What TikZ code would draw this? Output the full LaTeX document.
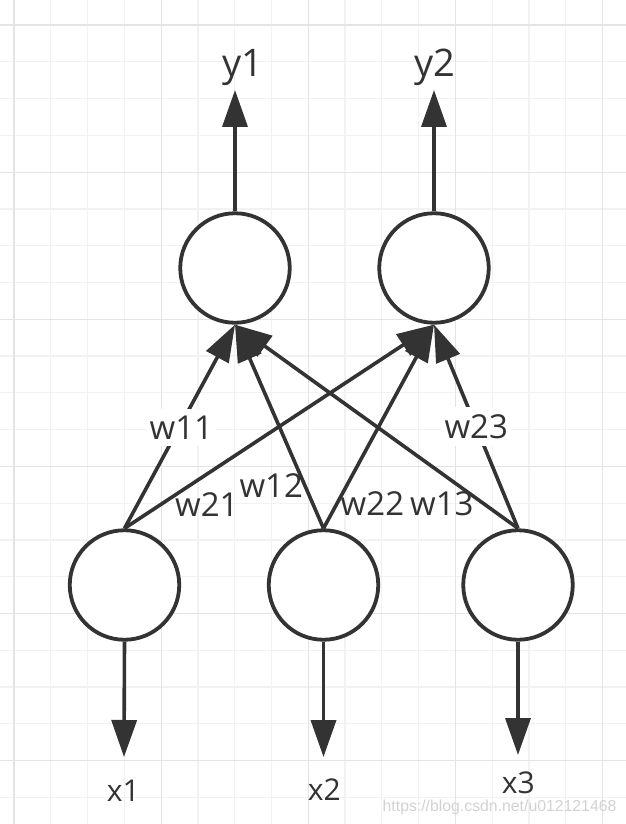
\documentclass[tikz,border=0pt]{standalone}
\usepackage{fontspec}
\setmainfont{Open Sans}
\newfontfamily\wmfont{Liberation Sans}
\usetikzlibrary{arrows.meta}
\definecolor{ink}{HTML}{333333}
\definecolor{gridminor}{HTML}{F2F2F2}
\definecolor{gridmajor}{HTML}{E4E4E4}
\definecolor{wmgray}{HTML}{D2D2D2}
\begin{document}
\begin{tikzpicture}[x=1pt,y=-1pt,
  neuron/.style={circle, draw=ink, line width=3.8pt, fill=white, minimum size=109.5pt, inner sep=0pt},
  conn/.style={draw=ink, line width=3.6pt, -{Triangle[length=37pt,width=25pt]}},
  ylab/.style={text=ink, font=\fontsize{38}{46}\selectfont, inner sep=0pt, anchor=base},
  xlab/.style={text=ink, font=\fontsize{30}{36}\selectfont, inner sep=0pt, anchor=base},
  wlab/.style={text=ink, font=\fontsize{33}{40}\selectfont, inner sep=0pt, anchor=base},
  wbox/.style={wlab, fill=white, inner xsep=3pt, inner ysep=7pt},
  minorline/.style={draw=gridminor, line width=1.2pt},
  majorline/.style={draw=gridmajor, line width=1.2pt}
]
\fill[white] (0,0) rectangle (626,824);
\useasboundingbox (0,0) rectangle (626,824);
% grid
\foreach \k in {0,...,16} {\pgfmathsetmacro\xx{14+36.78*\k}\draw[minorline] (\xx,0) -- (\xx,824);}
\foreach \k in {0,...,21} {\pgfmathsetmacro\yy{25+36.78*\k}\draw[minorline] (0,\yy) -- (626,\yy);}
\foreach \k in {0,4,...,16} {\pgfmathsetmacro\xx{14+36.78*\k}\draw[majorline] (\xx,0) -- (\xx,824);}
\foreach \k in {0,4,...,20} {\pgfmathsetmacro\yy{25+36.78*\k}\draw[majorline] (0,\yy) -- (626,\yy);}
% neurons
\node[neuron] (y1) at (235,268) {};
\node[neuron] (y2) at (434,268) {};
\node[neuron] (x1) at (124.5,585) {};
\node[neuron] (x2) at (323.5,585) {};
\node[neuron] (x3) at (518,585) {};
% arrow end points
\coordinate (y1tip) at (235,90);
\coordinate (y2tip) at (434,90);
\coordinate (x1tip) at (124,757);
\coordinate (x2tip) at (323.5,757);
\coordinate (x3tip) at (518,755);
% connectors
\draw[conn] (y1.north) -- (y1tip);
\draw[conn] (y2.north) -- (y2tip);
\draw[conn] (x1.south) -- (x1tip);
\draw[conn] (x2.south) -- (x2tip);
\draw[conn] (x3.south) -- (x3tip);
\draw[conn] (x1.north) -- (y1.south);
\draw[conn] (x1.north) -- (y2.south);
\draw[conn] (x2.north) -- (y1.south);
\draw[conn] (x2.north) -- (y2.south);
\draw[conn] (x3.north) -- (y1.south);
\draw[conn] (x3.north) -- (y2.south);
% labels
\node[ylab] (ly1) at (242.5,76.7) {y1};
\node[ylab] (ly2) at (434.6,76.7) {y2};
\node[xlab] (lx1) at (123.3,801.5) {x1};
\node[xlab] (lx2) at (324.3,800) {x2};
\node[xlab] (lx3) at (518.3,793.3) {x3};
\node[wbox] (lw11) at (181.3,439.3) {w11};
\node[wbox] (lw23) at (476.2,438.3) {w23};
\node[wlab] (lw21) at (206.9,516) {w21};
\node[wlab] (lw12) at (271.2,497.3) {w12};
\node[wlab] (lw22) at (372.4,515) {w22};
\node[wlab] (lw13) at (441.8,515) {w13};
\node[text=wmgray, font=\wmfont\fontsize{15.8}{19}\selectfont, inner sep=0pt, anchor=base west] (wm) at (382.5,811.7) {https://blog.csdn.net/u012121468};
\end{tikzpicture}
\end{document}
